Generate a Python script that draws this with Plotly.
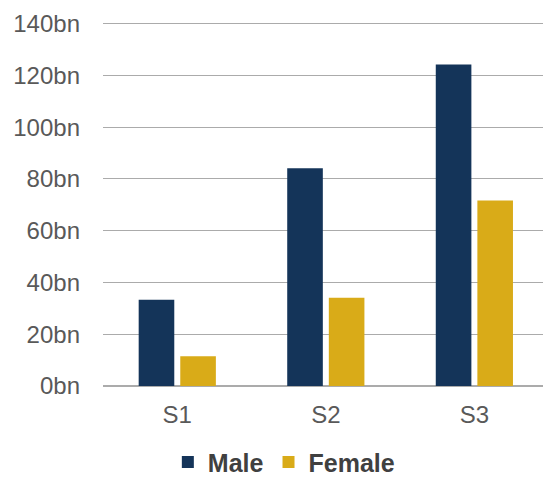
import plotly.graph_objects as go

categories = ["S1", "S2", "S3"]
male = [33.3, 84.1, 124.2]
female = [11.5, 34.1, 71.7]
y_ticks = [0, 20, 40, 60, 80, 100, 120, 140]
y_labels = [f"{v}bn" for v in y_ticks]

MALE_C = "#143459"
FEMALE_C = "#D9AB18"
TXT = "#595959"
GRID = "#ABABAB"
FONT = "Liberation Sans, Arial, sans-serif"

fig = go.Figure()
fig.add_trace(go.Bar(name="Male", x=categories, y=male, marker=dict(color=MALE_C, line=dict(width=0))))
fig.add_trace(go.Bar(name="Female", x=categories, y=female, marker=dict(color=FEMALE_C, line=dict(width=0))))

fig.update_layout(
    width=543, height=477,
    margin=dict(l=103, r=0, t=21, b=91.3, pad=0, autoexpand=False),
    paper_bgcolor="white", plot_bgcolor="white",
    barmode="group", bargap=0.44, bargroupgap=0.144,
    font=dict(family=FONT, color=TXT, size=24),
    showlegend=True,
    legend=dict(orientation="h", x=0.411, xanchor="center", y=-0.209, yanchor="middle",
                font=dict(family=FONT, size=25, color="#404040", weight="bold"),
                itemwidth=30, tracegroupgap=0, borderwidth=0, bgcolor="rgba(0,0,0,0)"),
    xaxis=dict(range=[-0.5, 2.462], showgrid=False, showline=False, ticks="", automargin=False,
               tickfont=dict(size=24, color=TXT), ticklabelstandoff=12, fixedrange=True),
    yaxis=dict(range=[0, 141], tickmode="array", tickvals=y_ticks, ticktext=y_labels,
               showgrid=True, automargin=False,
               gridcolor=GRID, gridwidth=1, zeroline=True, zerolinecolor=GRID, zerolinewidth=1.5,
               showline=False, ticks="", tickfont=dict(size=24, color=TXT),
               ticklabelstandoff=22, fixedrange=True),
)

fig.write_html("out.html",
               config={"displayModeBar": False, "staticPlot": True},
               post_script="document.body.style.margin='0';document.body.style.padding='0';document.body.style.overflow='hidden';")
